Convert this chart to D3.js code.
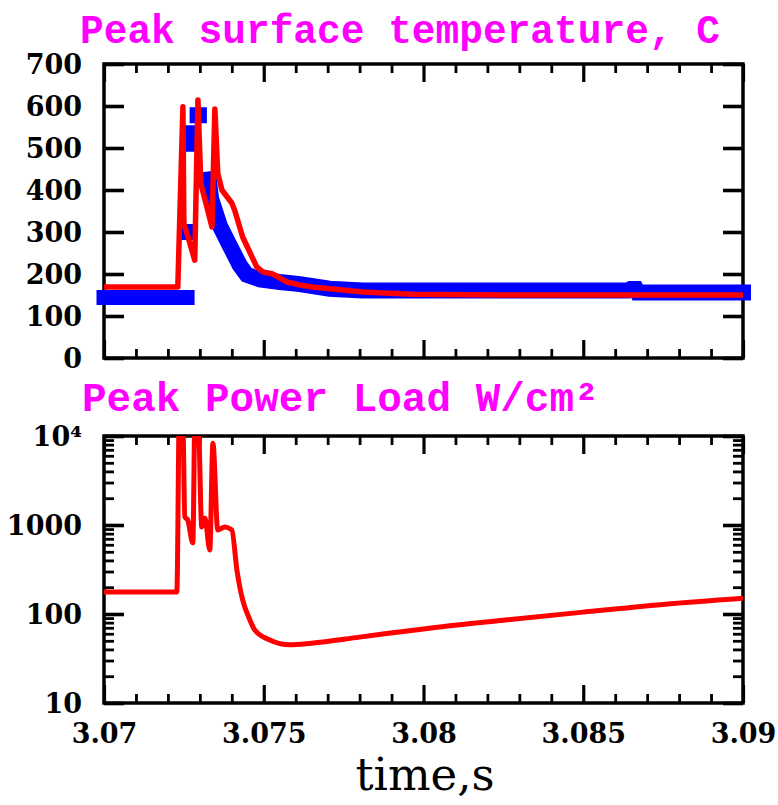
<!DOCTYPE html>
<html>
<head>
<meta charset="utf-8">
<script src="https://cdn.jsdelivr.net/npm/d3@7"></script>
<style>
  html, body { margin: 0; padding: 0; background: #fff; }
  svg { display: block; }
</style>
</head>
<body>
<svg id="chart" width="778" height="805"></svg>
<script>
// ---------------- data ----------------
const xTicks = [3.07, 3.075, 3.08, 3.085, 3.09];
const xTickLabels = ["3.07", "3.075", "3.08", "3.085", "3.09"];
const tempTicks = [0, 100, 200, 300, 400, 500, 600, 700];
const tempTickLabels = ["0", "100", "200", "300", "400", "500", "600", "700"];
const powerTicks = [10, 100, 1000, 10000];
const powerTickLabels = ["10", "100", "1000", "10\u2074"];

// Peak surface temperature (red)
const redTempTime = [3.0700, 3.07231, 3.07247, 3.07250, 3.07263, 3.07284, 3.07294, 3.07303, 3.07338, 3.07347, 3.07356, 3.07369, 3.07400, 3.07409, 3.07434, 3.07478, 3.07497, 3.07528, 3.07572, 3.07613, 3.07653, 3.07810, 3.07966, 3.08250, 3.09000];
const redTemp     = [169, 169, 598, 321, 288, 233, 614, 416, 312, 593, 440, 400, 369, 352, 288, 217, 205, 200, 181, 174, 169, 157, 152, 150, 150];

// Peak surface temperature (blue): flat start + spike blocks + decay band (null = gap)
const blueBaseTime = [3.0700, 3.07260];
const blueBaseTemp = [144, 144];
const blueTempTime = [3.07258, 3.07262, null, 3.07269, 3.07269, null, 3.07293, 3.07297, null, 3.07328, 3.07335, 3.07363, 3.07394, 3.07425, 3.07447, 3.07488, 3.07550, 3.07613, 3.07706, 3.07809, 3.08640, 3.08648, 3.08665, 3.08670, 3.09000];
const blueTemp     = [300, 300, null, 535, 510, null, 578, 578, null, 425, 380, 314, 267, 221, 198, 187, 181, 176, 165, 161, 161, 164, 164, 156, 156];

// Peak power load, W/cm^2 (red)
const powerTime = [3.0700, 3.07228, 3.07236, 3.07246, 3.07253, 3.07262, 3.07278, 3.07285, 3.07294, 3.07306, 3.07316, 3.07331, 3.07341, 3.07356, 3.07378, 3.07400, 3.07416, 3.07434, 3.07453, 3.07472, 3.07519, 3.07581, 3.0765, 3.0780, 3.0800, 3.0825, 3.0850, 3.0875, 3.0900];
const powerLoad = [177, 177, 20000, 20000, 1230, 1140, 630, 20000, 20000, 950, 1200, 525, 8300, 880, 950, 880, 312, 144, 92, 66, 51, 45, 47, 55, 68, 85, 105, 128, 150];

// ---------------- layout ----------------
const L = 104, R = 743;
const T1 = 64, B1 = 358;
const T2 = 436, B2 = 703;

const svg = d3.select("#chart");

const x = d3.scaleLinear().domain([3.07, 3.09]).range([L, R]);
const y1 = d3.scaleLinear().domain([0, 700]).range([B1, T1]);
const y2 = d3.scaleLog().domain([10, 10000]).range([B2, T2]);

const labelFont = "'DejaVu Serif', serif";
const titleFont = "'Liberation Mono', monospace";

function styleAxis(g, width) {
  g.select(".domain").remove();
  g.selectAll(".tick line").attr("stroke", "#000").attr("stroke-width", width);
  g.selectAll(".tick text")
    .attr("fill", "#000")
    .attr("font-family", labelFont)
    .attr("font-weight", "bold")
    .attr("font-size", 27);
}

function drawFrame(top, bottom, y, majorY, majorLabels, logMinor, showX) {
  const g = svg.append("g");
  // x axes (top & bottom)
  const minorX = x.ticks(20).filter(v => !xTicks.some(t => Math.abs(t - v) < 1e-9));
  [[d3.axisBottom, bottom], [d3.axisTop, top]].forEach(([ax, pos], k) => {
    const gm = g.append("g").attr("transform", `translate(0,${pos})`)
      .call(ax(x).tickValues(minorX).tickSize(-9).tickFormat(""));
    styleAxis(gm, 2.8);
    const gM = g.append("g").attr("transform", `translate(0,${pos})`)
      .call(ax(x).tickValues(xTicks).tickSize(-18)
        .tickFormat((d, i) => (showX && k === 0) ? xTickLabels[i] : ""));
    styleAxis(gM, 3.2);
    if (showX && k === 0) {
      gM.selectAll(".tick text").attr("y", 0).attr("dy", 0).attr("transform", "translate(0,40)");
    }
  });
  // y axes (left & right)
  [[d3.axisLeft, L], [d3.axisRight, R]].forEach(([ax, pos], k) => {
    if (logMinor) {
      const minorY = y.ticks().filter(v => !majorY.includes(v));
      const gm = g.append("g").attr("transform", `translate(${pos},0)`)
        .call(ax(y).tickValues(minorY).tickSize(-10).tickFormat(""));
      styleAxis(gm, 2.8);
    }
    const gM = g.append("g").attr("transform", `translate(${pos},0)`)
      .call(ax(y).tickValues(majorY).tickSize(-20).tickPadding(22)
        .tickFormat((d, i) => k === 0 ? majorLabels[i] : ""));
    styleAxis(gM, 3.6);
    gM.selectAll(".tick text").attr("dy", "0.36em");
  });
  g.append("rect")
    .attr("x", L).attr("y", top)
    .attr("width", R - L).attr("height", bottom - top)
    .attr("fill", "none").attr("stroke", "#000").attr("stroke-width", 3.5);
}

drawFrame(T1, B1, y1, tempTicks, tempTickLabels, false, false);
drawFrame(T2, B2, y2, powerTicks, powerTickLabels, true, true);

// ---------------- data marks ----------------
const zip = (a, b) => a.map((v, i) => [v, b[i]]);

const lineT = d3.line()
  .defined(d => d[0] !== null && d[1] !== null)
  .x(d => x(d[0])).y(d => y1(d[1]));

svg.append("path")
  .datum(zip(blueBaseTime, blueBaseTemp))
  .attr("d", lineT)
  .attr("fill", "none").attr("stroke", "#0000ff")
  .attr("stroke-width", 15).attr("stroke-linecap", "square");

svg.append("path")
  .datum(zip(blueTempTime, blueTemp))
  .attr("d", lineT)
  .attr("fill", "none").attr("stroke", "#0000ff")
  .attr("stroke-width", 16).attr("stroke-linecap", "square")
  .attr("stroke-linejoin", "miter");

svg.append("path")
  .datum(zip(redTempTime, redTemp))
  .attr("d", lineT)
  .attr("fill", "none").attr("stroke", "#ff0000")
  .attr("stroke-width", 5.5).attr("stroke-linejoin", "round");

svg.append("clipPath").attr("id", "clip2")
  .append("rect").attr("x", L).attr("y", T2).attr("width", R - L).attr("height", B2 - T2);

const lineP = d3.line()
  .x(d => x(d[0])).y(d => y2(d[1]))
  .curve(d3.curveMonotoneX);

svg.append("path")
  .datum(zip(powerTime, powerLoad))
  .attr("d", lineP)
  .attr("clip-path", "url(#clip2)")
  .attr("fill", "none").attr("stroke", "#ff0000")
  .attr("stroke-width", 5).attr("stroke-linejoin", "round");

// ---------------- titles ----------------
svg.append("text")
  .attr("x", 80).attr("y", 43)
  .attr("font-family", titleFont).attr("font-weight", "bold").attr("font-size", 41)
  .attr("fill", "#ff00ff")
  .attr("textLength", 640).attr("lengthAdjust", "spacingAndGlyphs")
  .text("Peak surface temperature, C");

svg.append("text")
  .attr("x", 82).attr("y", 411)
  .attr("font-family", titleFont).attr("font-weight", "bold").attr("font-size", 41)
  .attr("fill", "#ff00ff")
  .text("Peak Power Load W/cm\u00b2");

svg.append("text")
  .attr("x", 425).attr("y", 790)
  .attr("text-anchor", "middle")
  .attr("font-family", labelFont).attr("font-size", 45)
  .attr("fill", "#000")
  .text("time,s");
</script>
</body>
</html>
